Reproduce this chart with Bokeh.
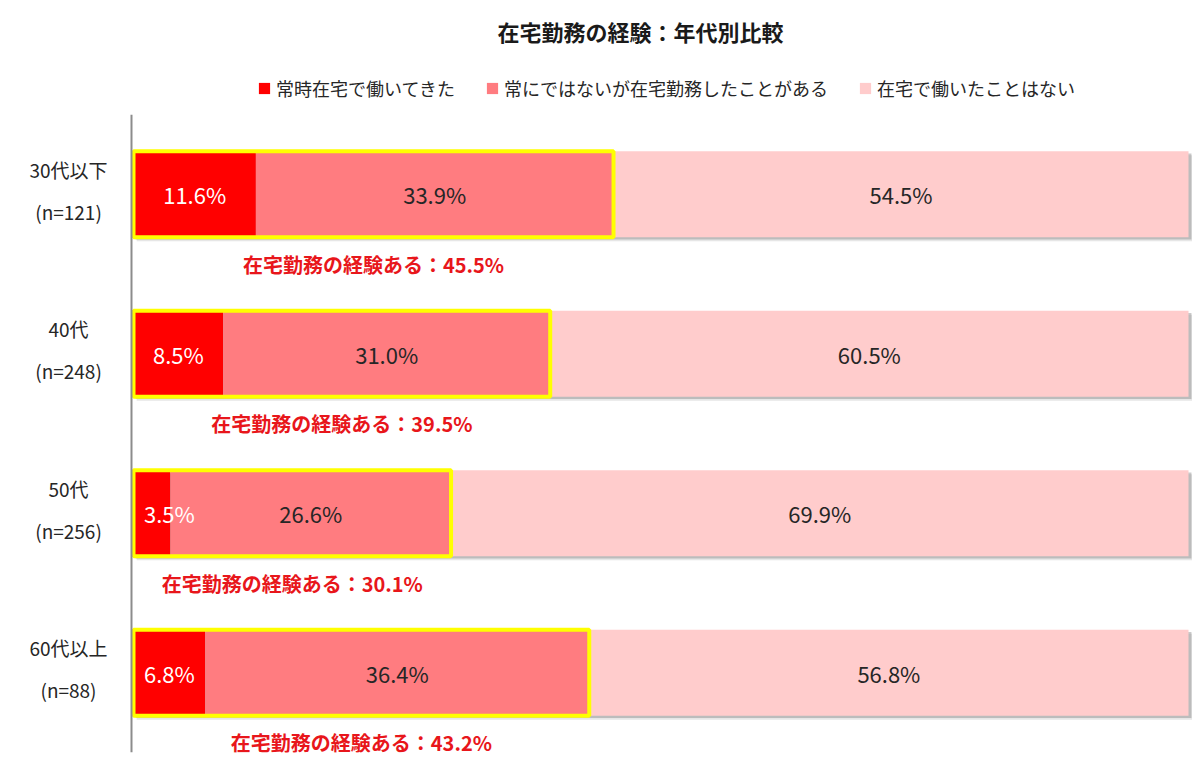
from bokeh.plotting import figure
from bokeh.layouts import column
from bokeh.models import ColumnDataSource, FactorRange, Range1d, Span, Legend, LegendItem
from bokeh.transform import dodge
from bokeh.core.properties import value
from bokeh.embed import file_html
from bokeh.resources import INLINE

# ---- data ----
age_groups = ["30代以下", "40代", "50代", "60代以上"]
sample_sizes = [121, 248, 256, 88]
always_home = [11.6, 8.5, 3.5, 6.8]
sometimes_home = [33.9, 31.0, 26.6, 36.4]
never_home = [54.5, 60.5, 69.9, 56.8]
series_names = ["常時在宅で働いてきた", "常にではないが在宅勤務したことがある", "在宅で働いたことはない"]
series_colors = ["#FF0000", "#FF7C80", "#FFCCCC"]
summary_prefix = "在宅勤務の経験ある："
title_text = "在宅勤務の経験：年代別比較"

FONT = "Noto Sans CJK JP"
W = 1192
HEAD_H = 114
BODY_H = 649

experienced = [round(a + b, 1) for a, b in zip(always_home, sometimes_home)]
totals = [round(e + c, 1) for e, c in zip(experienced, never_home)]

src = ColumnDataSource(dict(
    age=age_groups,
    n_label=[f"(n={n})" for n in sample_sizes],
    e0=always_home,
    e1=experienced,
    e2=totals,
    exp_mid=[e / 2 for e in experienced],
    x0=[max(a / 2, 3.4) for a in always_home],
    x1=[a + b / 2 for a, b in zip(always_home, sometimes_home)],
    x2=[e + c / 2 for e, c in zip(experienced, never_home)],
    l0=[f"{v:.1f}%" for v in always_home],
    l1=[f"{v:.1f}%" for v in sometimes_home],
    l2=[f"{v:.1f}%" for v in never_home],
    summary=[f"{summary_prefix}{e:.1f}%" for e in experienced],
))

# ---------- header: title + legend ----------
head = figure(width=W, height=HEAD_H, x_range=Range1d(0, W), y_range=Range1d(0, HEAD_H),
              x_axis_location=None, y_axis_location=None,
              output_backend="svg", toolbar_location=None, min_border=0)
head.grid.visible = False
head.outline_line_color = None

head.text(x=[640], y=[HEAD_H - 30], text=[title_text], text_align="center", text_baseline="middle",
          text_font=value(FONT), text_font_size="22px", text_font_style="bold", text_color="#1a1a1a")

# legend swatches (one off-screen row each so the legend can draw the swatch)
legend_renderers = [head.hbar(y=[-HEAD_H], left=[0], right=[1], height=1, fill_color=c, line_color=None)
                    for c in series_colors]
legend = Legend(items=[LegendItem(label=n, renderers=[r]) for n, r in zip(series_names, legend_renderers)],
                orientation="horizontal", location=(257, 13),
                glyph_width=14, glyph_height=14, label_standoff=5, spacing=30,
                label_text_font=FONT, label_text_font_size="18px", label_text_color="#262626",
                label_height=20, border_line_color=None, background_fill_alpha=0,
                padding=4, margin=0)
head.add_layout(legend, "center")

# ---------- body: bars ----------
p = figure(width=W, height=BODY_H,
           y_range=FactorRange(factors=age_groups[::-1]),
           x_range=Range1d(-133 / 10.55, (W - 133) / 10.55),
           x_axis_location=None, y_axis_location=None,
           output_backend="svg", toolbar_location=None,
           min_border_left=0, min_border_right=0, min_border_bottom=11, min_border_top=0)
p.grid.visible = False
p.outline_line_color = None

BAR_H = 0.54

# shadows
p.hbar(y=dodge("age", -0.025, range=p.y_range), left=0.3, right=dodge("e2", 0.45),
       height=BAR_H, fill_color="#9a9a9a", fill_alpha=0.25, line_color=None, source=src)
p.hbar(y=dodge("age", -0.014, range=p.y_range), left=0.2, right=dodge("e2", 0.28),
       height=BAR_H, fill_color="#8a8a8a", fill_alpha=0.45, line_color=None, source=src)

for left, right, color in [(0, "e0", series_colors[0]), ("e0", "e1", series_colors[1]),
                           ("e1", "e2", series_colors[2])]:
    p.hbar(y="age", left=left, right=right, height=BAR_H, fill_color=color,
           line_color=None, source=src)

# yellow highlight boxes
p.hbar(y="age", left=0, right="e1", height=BAR_H, fill_alpha=0,
       line_color="#FFFF00", line_width=4, source=src)

# axis line
p.add_layout(Span(location=-0.19, dimension="height", line_color="#8c8c8c", line_width=2))

# data labels
p.text(x="x0", y="age", text="l0", text_color="white", text_align="center",
       text_baseline="middle", text_font=value(FONT), text_font_size="22px", source=src)
p.text(x="x1", y="age", text="l1", text_color="#262626", text_align="center",
       text_baseline="middle", text_font=value(FONT), text_font_size="22px", source=src)
p.text(x="x2", y="age", text="l2", text_color="#262626", text_align="center",
       text_baseline="middle", text_font=value(FONT), text_font_size="22px", source=src)

# category labels
p.text(x=-6.16, y="age", text="age", y_offset=-25, text_color="#262626", text_align="center",
       text_baseline="middle", text_font=value(FONT), text_font_size="19px", source=src)
p.text(x=-6.16, y="age", text="n_label", y_offset=17, text_color="#262626", text_align="center",
       text_baseline="middle", text_font=value(FONT), text_font_size="19px", source=src)

# summary labels
p.text(x="exp_mid", y="age", text="summary", y_offset=70, text_color="#E8161B",
       text_align="center", text_baseline="middle", text_font=value(FONT),
       text_font_size="20px", text_font_style="bold", source=src)

layout = column(head, p, spacing=0)
open("out.html", "w").write(file_html(layout, INLINE, title=title_text))
